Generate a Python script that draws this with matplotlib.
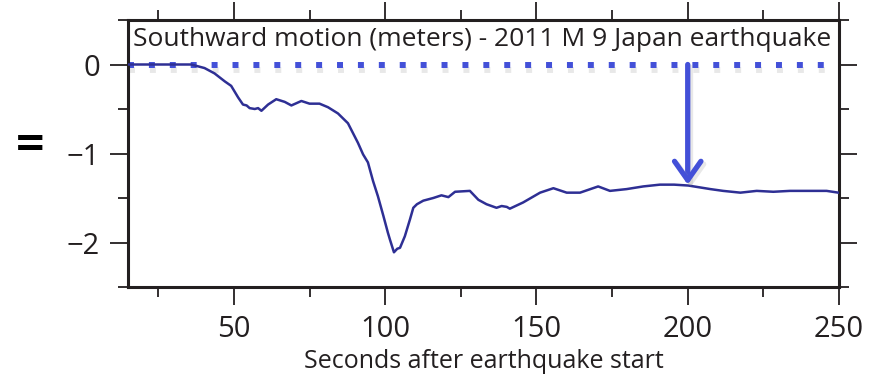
import matplotlib
matplotlib.use("Agg")
import matplotlib.pyplot as plt
import matplotlib.patheffects as pe
from matplotlib.ticker import MultipleLocator

# Data
seconds = [15, 20, 25, 30, 35.9, 40.3, 43.6, 47, 49.1, 51.4, 53, 54.2, 55.2, 56.9,
           58.0, 59.1, 61.3, 64, 66.8, 69, 72.3, 75, 78.3, 81.1, 84.4, 87.7, 91,
           92.7, 94.3, 96, 97.6, 99.4, 100.9, 101.6, 102.9, 104.0, 104.9, 106.5,
           108.2, 109.3, 110.5, 112.6, 115.9, 118.6, 120.9, 123.1, 128, 130.8,
           133.5, 136.8, 138.5, 140.2, 141.2, 145.6, 151.2, 155.6, 160, 164.4,
           170.4, 174.3, 179.8, 185.3, 190.8, 195.5, 200.2, 207.5, 211.7, 217.4,
           222.8, 228.3, 233.8, 241.5, 245.9, 249.8]
southward = [0.0, 0.0, 0.0, 0.0, 0.0, -0.04, -0.10, -0.19, -0.24, -0.37, -0.45, -0.46,
             -0.49, -0.50, -0.49, -0.52, -0.45, -0.39, -0.42, -0.46, -0.41, -0.44,
             -0.44, -0.48, -0.55, -0.66, -0.88, -1.01, -1.10, -1.31, -1.48, -1.70,
             -1.89, -1.97, -2.11, -2.07, -2.06, -1.93, -1.74, -1.61, -1.57, -1.53,
             -1.50, -1.47, -1.49, -1.43, -1.42, -1.52, -1.57, -1.61, -1.59, -1.60,
             -1.62, -1.55, -1.44, -1.39, -1.44, -1.44, -1.37, -1.42, -1.40, -1.37,
             -1.35, -1.35, -1.36, -1.40, -1.42, -1.44, -1.42, -1.43, -1.42, -1.42,
             -1.42, -1.44]
xticks = [50, 100, 150, 200, 250]
yticks = [0, -1, -2]
arrow_x = 200
arrow_tip = -1.35

title = "Southward motion (meters) - 2011 M 9 Japan earthquake"
xlabel = "Seconds after earthquake start"

plt.rcParams['font.family'] = ['Open Sans', 'DejaVu Sans']

fig = plt.figure(figsize=(8.75, 3.79), dpi=100)
ax = fig.add_axes([128/875, 1-287/379, 711/875, 267/379])

curve_col = '#2E2F94'
blue = '#4350D8'
frame_col = '#231F20'

shadow = [pe.SimpleLineShadow(offset=(1, -4), shadow_color='#999999', alpha=0.22), pe.Normal()]

ax.plot([15, 250], [0, 0], color=blue, lw=4.3, dashes=(1, 2.5),
        solid_capstyle='butt', dash_capstyle='butt', path_effects=shadow, zorder=2)
ax.plot(seconds, southward, color=curve_col, lw=1.8, zorder=3)

ax.annotate('', xy=(arrow_x, arrow_tip), xytext=(arrow_x, 0),
            arrowprops=dict(arrowstyle='->,head_length=1.35,head_width=0.95',
                            color=blue, lw=3.8, shrinkA=0, shrinkB=0,
                            path_effects=[pe.SimpleLineShadow(offset=(2, -2), shadow_color='#999999', alpha=0.22), pe.Normal()]),
            zorder=4)

ax.set_xlim(15, 250)
ax.set_ylim(-2.5, 0.5)
ax.set_xticks(xticks)
ax.set_yticks(yticks)
ax.set_yticklabels(['0', '\u22121', '\u22122'])
ax.xaxis.set_minor_locator(MultipleLocator(25))
ax.yaxis.set_minor_locator(MultipleLocator(0.5))

ax.tick_params(which='both', direction='out', top=True, right=True,
               labeltop=False, labelright=False, color=frame_col, width=1.3)
ax.tick_params(which='major', length=13, labelsize=21, pad=7, labelcolor='#231F20')
ax.tick_params(which='minor', length=7)
for s in ax.spines.values():
    s.set_linewidth(2.2)
    s.set_color(frame_col)

ax.text(5/711, 1-20/267, title, transform=ax.transAxes, ha='left', va='center',
        fontsize=19, color='#231F20', zorder=5)
ax.set_xlabel(xlabel, fontsize=18, color='#231F20', labelpad=4)
fig.text(30/875, 1-147/379, '=', fontsize=36, fontweight='bold', ha='center', va='center', color='black')

fig.savefig('out.png', dpi=100)
